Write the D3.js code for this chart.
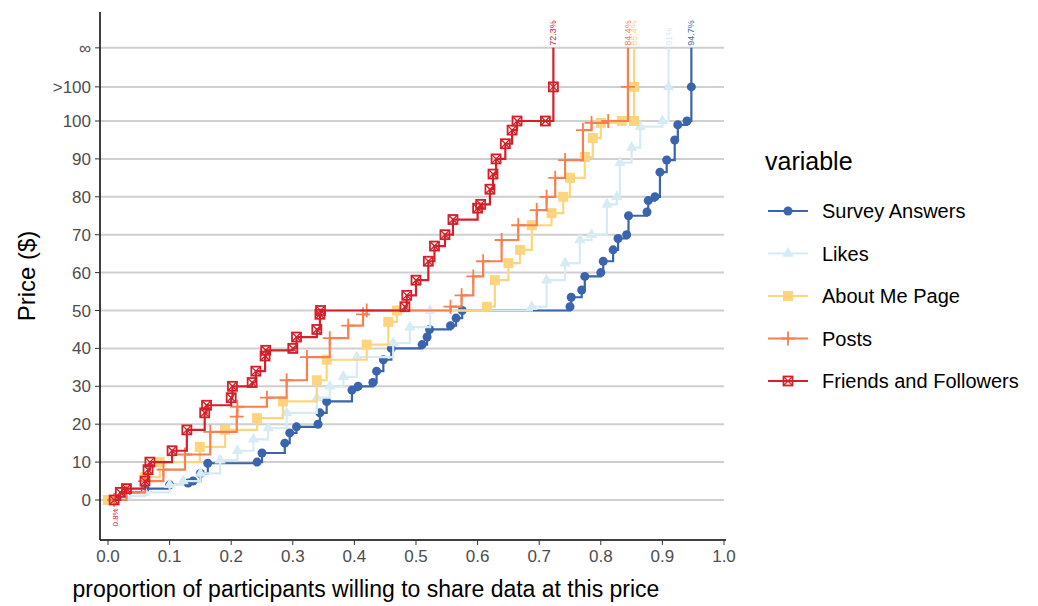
<!DOCTYPE html>
<html><head><meta charset="utf-8">
<script src="https://cdn.jsdelivr.net/npm/d3@7"></script>
<style>body{margin:0;background:#fff;font-family:"Liberation Sans",Arial,sans-serif}</style>
</head><body><svg id="c" width="1038" height="606"></svg>
<script>
// price values: ">100" drawn at 109, infinity at 119.3
let survey = [[0.01,0],[0.03,2],[0.06,3],[0.1,4],[0.13,4.5],[0.138,5],[0.15,7],[0.162,9.7],[0.242,10],[0.25,12.4],[0.287,15],[0.295,17.7],[0.306,19.3],[0.341,20],[0.344,23],[0.355,26],[0.396,29],[0.406,30],[0.43,31],[0.436,34],[0.447,37],[0.46,40],[0.51,41],[0.518,43],[0.522,45],[0.556,46],[0.565,48],[0.575,50],[0.75,51],[0.752,53.5],[0.769,55.4],[0.774,59],[0.8,60],[0.804,63],[0.82,66],[0.828,69],[0.842,70],[0.845,75],[0.875,76],[0.877,79],[0.888,80],[0.896,86.5],[0.907,89.7],[0.92,95],[0.925,99],[0.94,100],[0.947,109]]
let likes = [[0.01,0],[0.03,1],[0.06,2],[0.1,4],[0.122,5],[0.15,7],[0.182,10.5],[0.21,13],[0.236,16],[0.26,19],[0.29,23],[0.339,27],[0.36,30],[0.382,32.5],[0.404,37.7],[0.463,41.4],[0.49,45.6],[0.523,50],[0.688,51],[0.712,58],[0.742,62.5],[0.766,68.6],[0.785,70],[0.81,78],[0.826,80],[0.831,89],[0.85,93],[0.864,98.5],[0.9,100],[0.91,109]]
let aboutMe = [[0,0],[0.03,3],[0.06,6],[0.084,10],[0.149,14],[0.19,18.5],[0.242,21.6],[0.284,26],[0.339,31.6],[0.355,37],[0.42,41],[0.455,47],[0.469,50],[0.615,51],[0.628,58],[0.65,62.5],[0.669,66],[0.688,72.5],[0.72,75.7],[0.739,80],[0.75,85],[0.774,90.5],[0.787,95.5],[0.8,99.5],[0.834,100],[0.854,100],[0.854,109]]
let posts = [[0.01,0],[0.03,2],[0.06,5],[0.09,8],[0.125,12],[0.166,18],[0.209,22],[0.21,24.6],[0.258,27],[0.29,31.6],[0.323,37.7],[0.36,42.7],[0.39,46],[0.414,49],[0.42,50],[0.556,51],[0.574,54],[0.593,59],[0.609,63],[0.639,68.6],[0.666,72.5],[0.696,76.5],[0.712,80],[0.726,85],[0.742,89.7],[0.771,97.6],[0.785,99.5],[0.812,100],[0.844,109]]
let friends = [[0.01,0],[0.02,2],[0.03,3],[0.06,5],[0.065,8],[0.068,10],[0.104,13],[0.128,18.5],[0.157,23],[0.16,25],[0.2,27],[0.202,30],[0.234,31],[0.24,34],[0.255,38],[0.256,39.5],[0.3,40],[0.306,43],[0.339,45],[0.344,49],[0.345,50],[0.482,51],[0.485,54],[0.5,58],[0.52,63],[0.53,67],[0.547,70],[0.56,74],[0.6,77],[0.605,78],[0.62,82],[0.625,86],[0.63,90],[0.645,94],[0.656,97.6],[0.664,100],[0.71,100],[0.723,109]]
let seriesNames = ["Survey Answers","Likes","About Me Page","Posts","Friends and Followers"]
let seriesData = [survey, likes, aboutMe, posts, friends]
let finalPct = ["94.7%","91%","85.4%","84.4%","72.3%"]
let colors = ["#3a64ad","#d6ebf3","#fdd57e","#f87f4f","#d3202a"]
let shapes = ["circle","triangle","square","plus","boxx"]
let yTickVals = [0,10,20,30,40,50,60,70,80,90,100,109,119.3]
let yTickLabels = ["0","10","20","30","40","50","60","70","80","90","100",">100","\u221e"]
let xTicks = [0,0.1,0.2,0.3,0.4,0.5,0.6,0.7,0.8,0.9,1.0]

let svg = d3.select('#c')
let x = d3.scaleLinear().domain([0,1]).range([108,724])
let y = d3.scaleLinear().domain([0,100]).range([500,121])

// grid
svg.selectAll('.g').data(yTickVals).enter().append('line')
  .attr('x1',100).attr('x2',724).attr('y1',d=>y(d)).attr('y2',d=>y(d))
  .attr('stroke','#cfcfcf').attr('stroke-width',2)

let mark = (g, shape, cx, cy, col) => {
  if (shape=="circle") g.append('circle').attr('cx',cx).attr('cy',cy).attr('r',4.5).attr('fill',col)
  else if (shape=="triangle") g.append('path').attr('d',d3.symbol(d3.symbolTriangle,55)()).attr('transform',`translate(${cx},${cy})`).attr('fill',col)
  else if (shape=="square") g.append('rect').attr('x',cx-5).attr('y',cy-5).attr('width',10).attr('height',10).attr('fill',col)
  else if (shape=="plus") g.append('path').attr('d',`M${cx-7},${cy}H${cx+7}M${cx},${cy-7}V${cy+7}`).attr('stroke',col).attr('stroke-width',1.8)
  else {
    g.append('rect').attr('x',cx-4.5).attr('y',cy-4.5).attr('width',9).attr('height',9).attr('fill','none').attr('stroke',col).attr('stroke-width',1.8)
    g.append('path').attr('d',`M${cx-4.5},${cy-4.5}L${cx+4.5},${cy+4.5}M${cx+4.5},${cy-4.5}L${cx-4.5},${cy+4.5}`).attr('stroke',col).attr('stroke-width',1.3)
  }
}

let line = d3.line().x(d=>x(d[0])).y(d=>y(d[1])).curve(d3.curveStepAfter)
seriesData.forEach((data, i) => {
  let g = svg.append('g')
  let last = data[data.length-1]
  let pts = data.concat([[last[0],119.3]])
  g.append('path').attr('d',line(pts)).attr('fill','none').attr('stroke',colors[i]).attr('stroke-width',2.2)
  data.forEach(d => mark(g, shapes[i], x(d[0]), y(d[1]), colors[i]))
  svg.append('text').attr('transform',`translate(${x(last[0])+3},${y(119.3)-2}) rotate(-90)`)
    .attr('font-size',9).attr('fill',colors[i]).text(finalPct[i])
})
// small labels near origin
svg.append('text').attr('transform',`translate(${x(0.012)+3},${y(-7)}) rotate(-90)`).attr('font-size',8).attr('fill','#d3202a').text('0.8%')

// axes
svg.append('line').attr('x1',100).attr('x2',100).attr('y1',12).attr('y2',540).attr('stroke','#000').attr('stroke-width',1.5)
svg.append('line').attr('x1',100).attr('x2',726).attr('y1',540).attr('y2',540).attr('stroke','#000').attr('stroke-width',1.5)
yTickVals.forEach((v,i) => {
  svg.append('line').attr('x1',95).attr('x2',100).attr('y1',y(v)).attr('y2',y(v)).attr('stroke','#333')
  svg.append('text').attr('x',91).attr('y',y(v)+6).attr('text-anchor','end').attr('font-size',17).attr('fill','#4d4d4d').text(yTickLabels[i])
})
xTicks.forEach(v => {
  svg.append('line').attr('x1',x(v)).attr('x2',x(v)).attr('y1',540).attr('y2',545).attr('stroke','#333')
  svg.append('text').attr('x',x(v)).attr('y',562).attr('text-anchor','middle').attr('font-size',17).attr('fill','#4d4d4d').text(v.toFixed(1))
})
svg.append('text').attr('x',366).attr('y',597).attr('text-anchor','middle').attr('font-size',23).text('proportion of participants willing to share data at this price')
svg.append('text').attr('transform','translate(35,276) rotate(-90)').attr('text-anchor','middle').attr('font-size',24).text('Price ($)')

// legend
svg.append('text').attr('x',765).attr('y',170).attr('font-size',25).text('variable')
seriesNames.forEach((n,i) => {
  let ly = 211 + i*42.5
  let g = svg.append('g')
  g.append('line').attr('x1',768).attr('x2',808).attr('y1',ly).attr('y2',ly).attr('stroke',colors[i]).attr('stroke-width',2.2)
  mark(g, shapes[i], 788, ly, colors[i])
  svg.append('text').attr('x',822).attr('y',ly+7).attr('font-size',20).text(n)
})
</script></body></html>
